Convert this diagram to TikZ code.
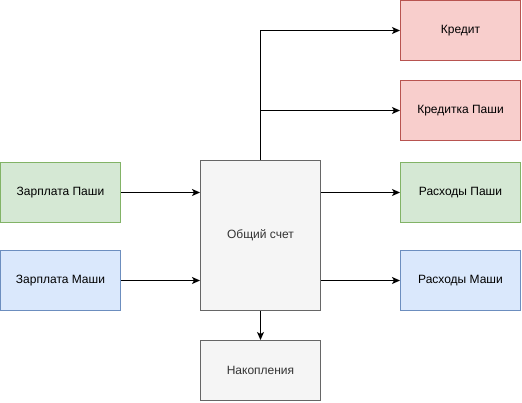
\documentclass[tikz,border=0pt]{standalone}
\usepackage{fontspec}
\setmainfont{Liberation Sans}
\usetikzlibrary{arrows.meta}

\definecolor{redfill}{HTML}{F8CECC}
\definecolor{redline}{HTML}{B85450}
\definecolor{greenfill}{HTML}{D5E8D4}
\definecolor{greenline}{HTML}{82B366}
\definecolor{bluefill}{HTML}{DAE8FC}
\definecolor{blueline}{HTML}{6C8EBF}
\definecolor{greyfill}{HTML}{F5F5F5}
\definecolor{greyline}{HTML}{666666}
\definecolor{greytext}{HTML}{333333}

\tikzset{
  box/.style={draw, line width=1pt, minimum width=120pt, minimum height=60pt, inner sep=0pt, font=\fontsize{12}{14}\selectfont},
  redbox/.style={box, fill=redfill, draw=redline},
  greenbox/.style={box, fill=greenfill, draw=greenline},
  bluebox/.style={box, fill=bluefill, draw=blueline},
  greybox/.style={box, fill=greyfill, draw=greyline, text=greytext},
  arr/.style={-{Stealth[length=8pt,width=7pt,inset=2pt]}, line width=1pt}
}

\begin{document}
\begin{tikzpicture}[x=1pt,y=-1pt]
\useasboundingbox (0,0) rectangle (522,402);
% accounts in the middle
\node[greybox, minimum height=150pt] (schet) at (260.5,235.5) {Общий счет};
\node[greybox] (nakop) at (260.5,370.5) {Накопления};
% incomes
\node[greenbox] (zpPasha) at (60.5,192.5) {Зарплата Паши};
\node[bluebox] (zpMasha) at (60.5,280.5) {Зарплата Маши};
% outgoings
\node[redbox] (kredit) at (460.5,30.5) {Кредит};
\node[redbox] (kreditka) at (460.5,110.5) {Кредитка Паши};
\node[greenbox] (rasPasha) at (460.5,192.5) {Расходы Паши};
\node[bluebox] (rasMasha) at (460.5,280.5) {Расходы Маши};

\draw[arr] (zpPasha) -- (zpPasha -| schet.west);
\draw[arr] (zpMasha) -- (zpMasha -| schet.west);
\draw[arr] (rasPasha -| schet.east) -- (rasPasha);
\draw[arr] (rasMasha -| schet.east) -- (rasMasha);
\draw[arr] (schet.north) |- (kredit.west);
\draw[arr] (schet.north |- kreditka.west) -- (kreditka.west);
\draw[arr] (schet) -- (nakop);
\end{tikzpicture}
\end{document}
